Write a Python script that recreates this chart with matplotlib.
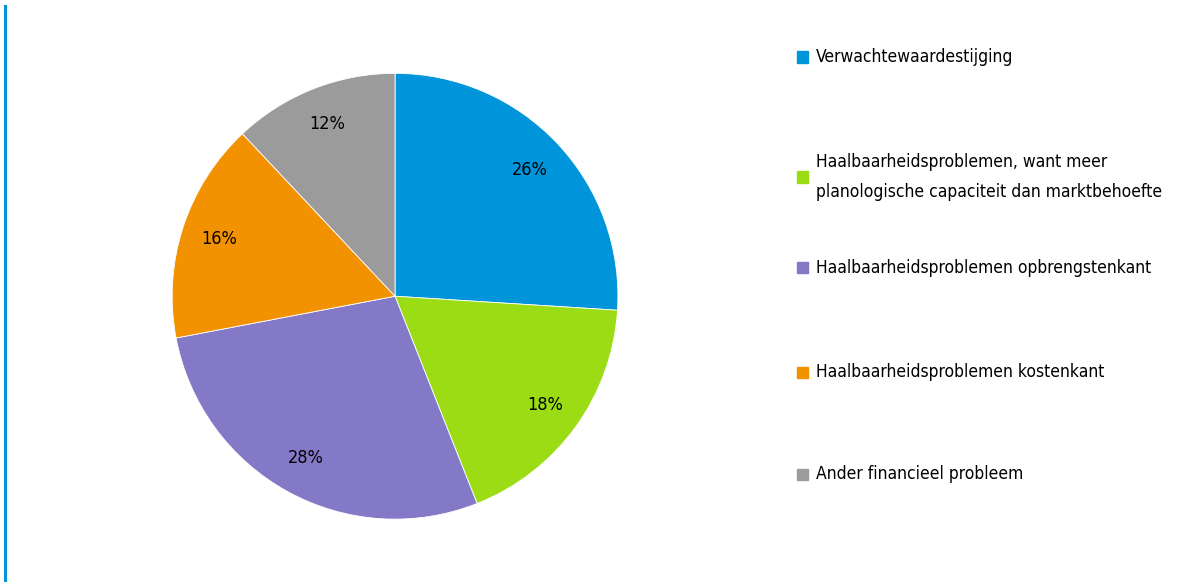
import matplotlib.pyplot as plt
from matplotlib.patches import Rectangle
from matplotlib.lines import Line2D

categories = [
    "Verwachtewaardestijging",
    "Haalbaarheidsproblemen, want meer\nplanologische capaciteit dan marktbehoefte",
    "Haalbaarheidsproblemen opbrengstenkant",
    "Haalbaarheidsproblemen kostenkant",
    "Ander financieel probleem",
]
shares = [26, 18, 28, 16, 12]
colors = ["#0095da", "#9bdc14", "#8479c6", "#f39200", "#9b9b9b"]
legend_y = [57, 177, 268, 372, 474]  # pixel rows of legend entries

plt.rcParams['font.family'] = ['DejaVu Sans']
plt.rcParams['font.stretch'] = 'condensed'

W, H = 1196, 582
fig = plt.figure(figsize=(W / 100, H / 100), dpi=100)

ax = fig.add_axes([0.1438, 0.108, 0.373, 0.766])
ax.pie(shares, colors=colors, startangle=90, counterclock=False,
       autopct=lambda p: f"{p:.0f}%", pctdistance=0.83,
       wedgeprops=dict(edgecolor="white", linewidth=0.6),
       textprops=dict(fontsize=13, color="black"))
ax.set_xlim(-1, 1)
ax.set_ylim(-1, 1)
ax.set_aspect('equal')

# blue line at left edge
fig.add_artist(Line2D([5 / W, 5 / W], [0, 1 - 6 / H], color="#0095da", linewidth=2.2))

# legend drawn manually
for label, color, yp in zip(categories, colors, legend_y):
    yf = 1 - yp / H
    fig.add_artist(Rectangle((797 / W, yf - 5.5 / H), 11 / W, 11 / H,
                             color=color, transform=fig.transFigure))
    fig.text(816 / W, yf, label, fontsize=12.5, va='center', ha='left',
             linespacing=1.8)

fig.savefig("out.png", dpi=100)
